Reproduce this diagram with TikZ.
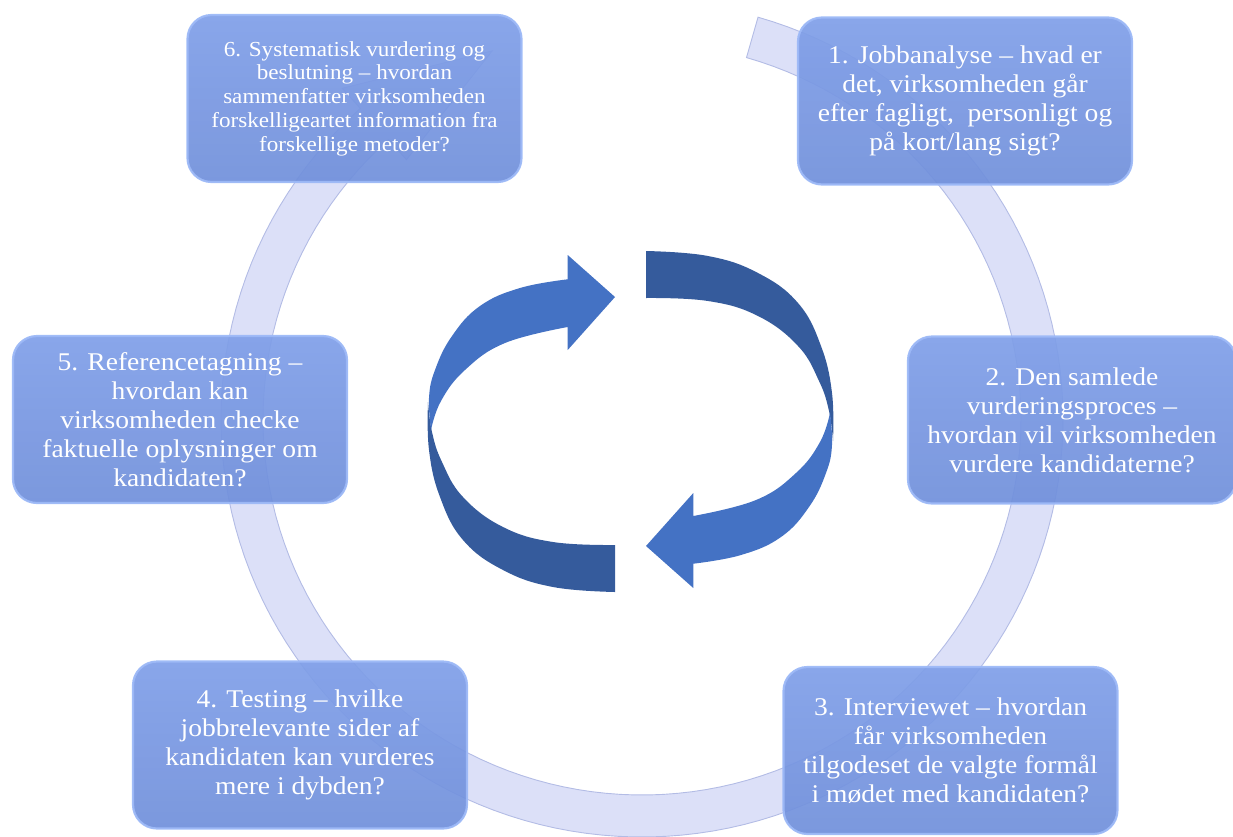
\documentclass[tikz,border=0pt]{standalone}
\usepackage{fontspec}
\setmainfont[FakeStretch=1.08]{Liberation Serif}
\definecolor{ringfill}{HTML}{DCE0F8}
\definecolor{ringedge}{HTML}{B3BCE5}
\definecolor{boxtop}{HTML}{809FE8}
\definecolor{boxbot}{HTML}{7190DB}
\definecolor{boxedge}{HTML}{9DB9F7}
\definecolor{arrlight}{HTML}{4472C4}
\definecolor{arrdark}{HTML}{355B9C}
\begin{document}
\begin{tikzpicture}[x=1pt,y=-1pt,
  stagebox/.style={draw=boxedge, line width=2.2pt, rounded corners=24pt,
    top color=boxtop, bottom color=boxbot, fill opacity=0.93, draw opacity=0.95,
    text opacity=1, text=white, minimum width=334pt, minimum height=167pt,
    align=center, inner sep=0pt, font=\fontsize{25.5}{29}\selectfont},
  smallstage/.style={stagebox, font=\fontsize{21.4}{23.7}\selectfont},
  ring/.style={fill=ringfill, draw=ringedge, line width=0.9pt}]
\useasboundingbox (0,0) rectangle (1233,836);

% background cycle arrow running clockwise from the top
\path[ring]
  plot[domain=74:-228, samples=140] ({642+421*cos(\x)},{419-418*sin(\x)})
  -- ({642+448*cos(-228)},{419-445*sin(-228)})
  -- ({642+400*cos(-248)},{419-397*sin(-248)})
  -- ({642+352*cos(-228)},{419-349*sin(-228)})
  -- plot[domain=-228:74, samples=140] ({642+379*cos(\x)},{419-376*sin(\x)})
  -- cycle;

% two twisted ribbon arrows in the middle
\foreach \rot in {0,180}{
  \begin{scope}[rotate around={\rot:(630.5,421.5)}]
    \fill[arrdark] (615,545) -- (615,592)
      -- plot[smooth, tension=0.7] coordinates {(615,592) (553,587) (503,570) (463,540) (440,497) (429,450) (428,402)}
      -- plot[smooth, tension=0.7] coordinates {(428,402) (432,432) (442,462) (463,497) (503,527) (553,542) (615,545)}
      -- cycle;
    \fill[arrlight] (615,297) -- (567.7,255) -- (567.7,279.3)
      -- plot[smooth, tension=0.7] coordinates {(567.7,279.3) (520,288) (480,306) (452,336) (435,370) (429,398) (431,430)}
      -- plot[smooth, tension=0.7] coordinates {(431,430) (441,401) (465,370) (505,343) (567.7,327)}
      -- (567.7,350) -- cycle;
  \end{scope}
}

% the six stages
\node[stagebox] (s1) at (965,101) {1. Jobbanalyse – hvad er\\det, virksomheden går\\efter fagligt,~ personligt og\\på kort/lang sigt?};
\node[stagebox, minimum width=328pt] (s2) at (1072,420) {2. Den samlede\\vurderingsproces –\\hvordan vil virksomheden\\vurdere kandidaterne?};
\node[stagebox] (s3) at (950.5,750.5) {3. Interviewet – hvordan\\får virksomheden\\tilgodeset de valgte formål\\i mødet med kandidaten?};
\node[stagebox] (s4) at (300,745) {4. Testing – hvilke\\jobbrelevante sider af\\kandidaten kan vurderes\\mere i dybden?};
\node[stagebox] (s5) at (180,419.5) {5. Referencetagning –\\hvordan kan\\virksomheden checke\\faktuelle oplysninger om\\kandidaten?};
\node[smallstage] (s6) at (354.5,98.5) {6. Systematisk vurdering og\\beslutning – hvordan\\sammenfatter virksomheden\\forskelligeartet information fra\\forskellige metoder?};
\end{tikzpicture}
\end{document}
